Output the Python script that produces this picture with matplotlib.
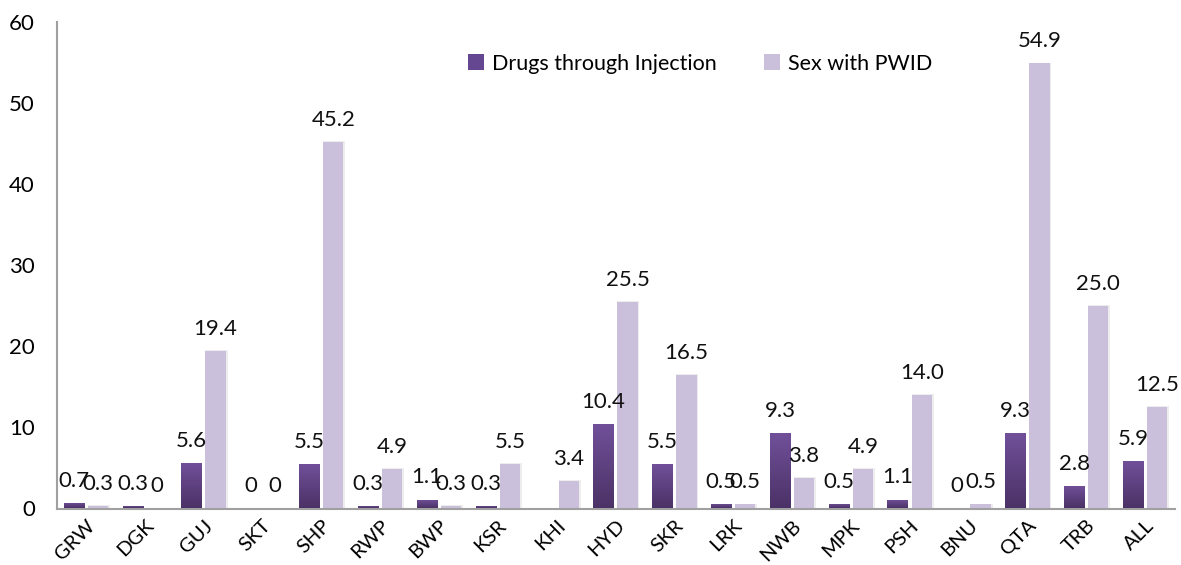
import numpy as np
import matplotlib.pyplot as plt
from matplotlib.colors import LinearSegmentedColormap

# ---------------------------------------------------------------------------
# DATA
# ---------------------------------------------------------------------------
cities = ["GRW", "DGK", "GUJ", "SKT", "SHP", "RWP", "BWP", "KSR", "KHI", "HYD",
          "SKR", "LRK", "NWB", "MPK", "PSH", "BNU", "QTA", "TRB", "ALL"]
drugs_injection = [0.7, 0.3, 5.6, 0, 5.5, 0.3, 1.1, 0.3, None, 10.4,
                   5.5, 0.5, 9.3, 0.5, 1.1, 0, 9.3, 2.8, 5.9]
sex_with_pwid = [0.3, 0, 19.4, 0, 45.2, 4.9, 0.3, 5.5, 3.4, 25.5,
                 16.5, 0.5, 3.8, 4.9, 14.0, 0.5, 54.9, 25.0, 12.5]
series_names = ["Drugs through Injection", "Sex with PWID"]

DARK = "#654690"
LIGHT = "#CBC0DB"
FONT = ["Lato", "DejaVu Sans"]


def fmt(v):
    return "0" if v == 0 else f"{v:.1f}"


fig = plt.figure(figsize=(11.81, 5.65), dpi=100)
ax = fig.add_axes([0.0483, 0.10, 0.9467, 0.861])

x = np.arange(len(cities))
w = 0.345
off = 0.205

dark_vals = [np.nan if v is None else v for v in drugs_injection]
b1 = ax.bar(x - off, dark_vals, w, color=DARK, label=series_names[0], zorder=2)
b2 = ax.bar(x + off, sex_with_pwid, w, color=LIGHT, label=series_names[1], zorder=2)

# soft shadow behind the light bars
for rect in b2:
    h = rect.get_height()
    if h > 0:
        ax.bar(rect.get_x() + rect.get_width() / 2 + 0.015, h + 0.1, w + 0.03,
               color="#DDDDDD", alpha=0.5, zorder=1)

# vertical gradient on the dark bars (Excel-ish look)
cmap = LinearSegmentedColormap.from_list("pg", ["#4B3266", "#71509A"])
grad = np.linspace(0, 1, 64).reshape(-1, 1)
for rect in b1:
    h = rect.get_height()
    if not np.isfinite(h) or h <= 0:
        continue
    x0 = rect.get_x()
    im = ax.imshow(grad, extent=[x0, x0 + rect.get_width(), 0, h], origin="lower",
                   aspect="auto", cmap=cmap, zorder=3)
    im.set_clip_path(rect)

# value labels
for i, v in enumerate(drugs_injection):
    if v is None:
        continue
    ax.text(x[i] - off, v + 1.5, fmt(v), ha="center", va="bottom",
            fontsize=16, family=FONT, color="#111111")
for i, v in enumerate(sex_with_pwid):
    ax.text(x[i] + off, v + 1.5, fmt(v), ha="center", va="bottom",
            fontsize=16, family=FONT, color="#111111")

ax.set_xlim(-0.49, len(cities) - 0.49)
ax.set_ylim(0, 60)
ax.set_yticks(range(0, 61, 10))
ax.set_xticks(x)
ax.set_xticklabels(cities, rotation=45, ha="right", rotation_mode="anchor",
                   fontsize=14.5, family=FONT)
for lab in ax.get_yticklabels():
    lab.set_fontsize(16)
    lab.set_family(FONT)
ax.tick_params(length=0)
ax.tick_params(axis="y", pad=16)
ax.tick_params(axis="x", pad=6)

for s in ["top", "right"]:
    ax.spines[s].set_visible(False)
for s in ["left", "bottom"]:
    ax.spines[s].set_color("#A0A0A0")
    ax.spines[s].set_linewidth(1.5)

leg = ax.legend(loc="upper center", bbox_to_anchor=(0.575, 0.975), ncol=2, frameon=False,
                prop={"family": FONT, "size": 15.5}, handlelength=0.75, handleheight=0.75,
                handletextpad=0.35, columnspacing=2.2)

fig.savefig("out.png", dpi=100)
